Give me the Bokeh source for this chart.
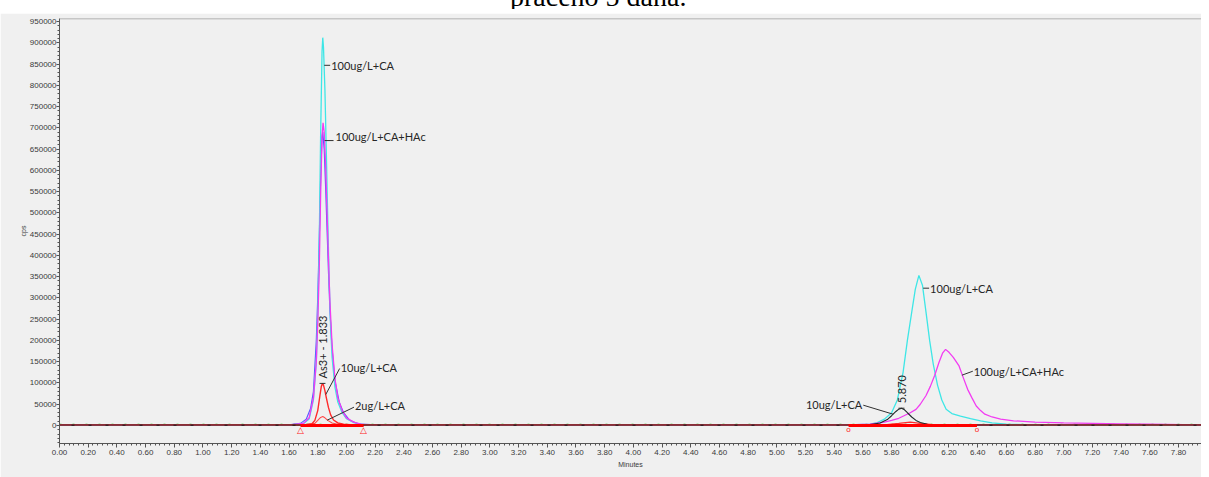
from math import pi
from bokeh.plotting import figure
from bokeh.models import (Range1d, SingleIntervalTicker, NumeralTickFormatter, Span, Div,
                          LinearAxis, FixedTicker)
from bokeh.layouts import column
from bokeh.core.properties import value
from bokeh.embed import file_html
from bokeh.resources import INLINE

# ---------------- data ----------------
TITLE_TEXT = "praćeno 5 dana."
X_LABEL = "Minutes"
Y_LABEL = "cps"

t_cyan = [0.00, 1.60, 1.70, 1.74, 1.77, 1.79, 1.80, 1.81, 1.82, 1.83, 1.835, 1.84, 1.85, 1.86, 1.87,
          1.88, 1.89, 1.90, 1.92, 1.94, 1.97, 2.00, 2.05, 2.10, 2.20, 5.50, 5.65, 5.70, 5.75, 5.80,
          5.84, 5.88, 5.91, 5.94, 5.965, 5.99, 6.015, 6.04, 6.065, 6.09, 6.12, 6.15, 6.18, 6.22,
          6.28, 6.35, 6.42, 6.50, 6.60, 6.80, 7.96]
v_cyan = [1500, 1500, 4000, 15000, 60000, 150000, 260000, 420000, 680000, 880000, 912000, 890000,
          790000, 640000, 480000, 340000, 230000, 160000, 90000, 55000, 30000, 16000, 7000, 3000,
          1500, 1500, 3000, 7000, 15000, 30000, 60000, 125000, 200000, 266000, 320000, 353000,
          330000, 266000, 200000, 145000, 95000, 60000, 38000, 28000, 22000, 16000, 11000, 6000,
          3000, 1500, 1500]

t_blue = [0.00, 1.60, 1.68, 1.72, 1.75, 1.77, 1.79, 1.80, 1.81, 1.82, 1.83, 1.835, 1.845, 1.855,
          1.865, 1.875, 1.885, 1.90, 1.92, 1.95, 1.98, 2.02, 2.08, 2.15, 7.96]
v_blue = [1500, 1500, 5000, 15000, 40000, 80000, 200000, 300000, 430000, 580000, 680000, 690000,
          650000, 560000, 460000, 360000, 270000, 180000, 105000, 55000, 30000, 13000, 4000, 1500,
          1500]

t_magenta = [0.00, 1.60, 1.70, 1.74, 1.77, 1.79, 1.80, 1.81, 1.82, 1.83, 1.837, 1.845, 1.855, 1.865,
             1.875, 1.885, 1.90, 1.92, 1.94, 1.97, 2.00, 2.05, 2.10, 2.20, 5.50, 5.65, 5.75, 5.80,
             5.85, 5.89, 5.93, 5.97, 6.00, 6.04, 6.07, 6.10, 6.13, 6.155, 6.176, 6.20, 6.23, 6.27,
             6.30, 6.33, 6.36, 6.39, 6.42, 6.45, 6.50, 6.56, 6.65, 6.80, 7.00, 7.20, 7.40, 7.60, 7.96]
v_magenta = [1500, 1500, 5000, 18000, 65000, 150000, 240000, 360000, 540000, 680000, 712000, 690000,
             610000, 500000, 390000, 290000, 190000, 110000, 65000, 35000, 18000, 8000, 3000, 1500,
             1500, 3000, 8000, 12000, 17000, 23500, 30000, 38000, 50000, 70500, 92000, 117600,
             148000, 170000, 179000, 172000, 160000, 140000, 112000, 85000, 65000, 46000, 35000,
             26500, 20000, 15000, 11000, 8000, 6000, 5000, 4000, 3000, 1500]

t_red10 = [0.00, 1.70, 1.76, 1.78, 1.80, 1.815, 1.825, 1.833, 1.84, 1.85, 1.86, 1.875, 1.89, 1.91,
           1.94, 1.98, 2.05, 5.75, 5.85, 5.93, 6.00, 6.10, 7.96]
v_red10 = [1500, 1500, 4000, 12000, 35000, 70000, 92000, 99000, 95000, 82000, 65000, 42000, 25000,
           13000, 6000, 3000, 1500, 1500, 5000, 8000, 5000, 1500, 1500]

t_red2 = [0.00, 1.72, 1.78, 1.80, 1.82, 1.835, 1.85, 1.87, 1.90, 1.94, 2.00, 7.96]
v_red2 = [1000, 1500, 5000, 12000, 19000, 21000, 18000, 12000, 6000, 3000, 1500, 1000]

t_black = [0.00, 5.50, 5.65, 5.72, 5.77, 5.80, 5.83, 5.85, 5.869, 5.89, 5.91, 5.94, 5.97, 6.00,
           6.05, 6.15, 7.96]
v_black = [1000, 1000, 2000, 6000, 14000, 23000, 33000, 38500, 40700, 37000, 30000, 20000, 12000,
           7000, 3000, 1000, 1000]

t_noise = [0.00, 7.96]
v_noise_green = [1500, 1500]
v_noise_dark = [700, 700]

# integration limits (start / end markers)
integ_tri_t = [1.68, 2.12]
integ_circ_t = [5.50, 6.395]

# peak annotations: text and the point of the trace they point to
ann_text = ["100ug/L+CA", "100ug/L+CA+HAc", "10ug/L+CA", "2ug/L+CA",
            "100ug/L+CA", "100ug/L+CA+HAc", "10ug/L+CA"]
ann_t = [1.845, 1.848, 1.856, 1.866, 6.020, 6.290, 5.810]
ann_v = [847000, 670000, 72900, 12500, 322900, 118300, 26600]

# retention-time labels (rotated)
rt_text = ["As3+ - 1.833", "5.870"]
rt_t = [1.833, 5.869]
rt_v = [99000, 40700]

# ---------------- layout / style ----------------
W, H = 1201, 466
ML, MR, MT, MB = 50, 0, 5, 36
FRAME_W, FRAME_H = W - ML - MR, H - MT - MB
X0, X1 = 0.0, 7.96
Y0, Y1 = -42333, 957055
ux = (X1 - X0) / FRAME_W
uy = (Y1 - Y0) / FRAME_H

# leader end / text offsets in screen px (dx right, dy down)
ann_style = [
    (6, 0, 7, 0, "left"),
    (9, 0, 11, -4, "left"),
    (14, -26, 15, -27, "left"),
    (27, -13, 28, -15, "left"),
    (6, 0, 7, 0, "left"),
    (11, -4, 12, -4, "left"),
    (-30, -9, -31, -10, "right"),
]

BG = "#f0f0f0"
AX = "#555555"
TXT = "#3a3a3a"
LBL_FONT = value("Lato")

p = figure(width=W, height=H, output_backend="svg", toolbar_location=None,
           x_range=Range1d(X0, X1), y_range=Range1d(Y0, Y1),
           min_border_left=ML, min_border_right=MR, min_border_top=MT, min_border_bottom=MB,
           background_fill_color=BG, border_fill_color=BG, outline_line_color=None)
p.xgrid.visible = False
p.ygrid.visible = False

p.xaxis.ticker = SingleIntervalTicker(interval=0.2, num_minor_ticks=6)
p.xaxis.formatter = NumeralTickFormatter(format="0.00")
p.yaxis.ticker = SingleIntervalTicker(interval=50000, num_minor_ticks=5)
p.yaxis.formatter = NumeralTickFormatter(format="0")
for ax in (p.xaxis[0], p.yaxis[0]):
    ax.axis_line_color = AX
    ax.major_tick_line_color = AX
    ax.minor_tick_line_color = AX
    ax.major_tick_in = 0
    ax.minor_tick_in = 0
    ax.minor_tick_out = 2
    ax.major_label_text_font = "Liberation Sans"
    ax.major_label_text_font_size = "8px"
    ax.major_label_text_color = TXT
    ax.axis_label_text_font = "Liberation Sans"
    ax.axis_label_text_font_size = "7px"
    ax.axis_label_text_font_style = "normal"
    ax.axis_label_text_color = TXT
p.xaxis.axis_label = X_LABEL
p.yaxis.axis_label = Y_LABEL
p.xaxis.major_tick_out = 4
p.xaxis.major_label_standoff = 2
p.xaxis.axis_label_standoff = 3
p.yaxis.major_tick_out = 3
p.yaxis.major_label_standoff = 0
p.yaxis.axis_label_standoff = 0

# empty outer axis that only reserves room at the far left
pad_axis = LinearAxis(ticker=FixedTicker(ticks=[]), axis_label=" ", axis_label_text_font_size="7px",
                      axis_label_standoff=6, axis_line_color=None, major_tick_line_color=None,
                      minor_tick_line_color=None, major_tick_out=0, minor_tick_out=0,
                      major_label_standoff=0)
p.add_layout(pad_axis, "left")

# top frame line
p.add_layout(Span(location=Y1, dimension="width", line_color="#9a9a9a", line_width=1.5))

# baseline noise traces
p.line(t_noise, v_noise_dark, line_color="#202020", line_width=1.2)
p.line(t_noise, v_noise_green, line_color="#22cc22", line_width=2, line_dash="2 11")

# chromatograms
p.line(t_blue, v_blue, line_color="#5a5aff", line_width=1.2)
p.line(t_cyan, v_cyan, line_color="#3ee6e6", line_width=1.3)
p.line(t_magenta, v_magenta, line_color="#f23cf2", line_width=1.3)
p.line(t_red2, v_red2, line_color="#ff4a4a", line_width=1.1)
p.line(t_red10, v_red10, line_color="#ff2a2a", line_width=1.4)
p.line(t_black, v_black, line_color="#1e2a2a", line_width=1.1)
p.line(t_noise, v_noise_dark, line_color="#1a1a1a", line_width=1, line_dash="3 14", line_dash_offset=5)

# integration baselines and markers
p.segment(x0=[integ_tri_t[0], integ_circ_t[0]], y0=[0, 0],
          x1=[integ_tri_t[1], integ_circ_t[1]], y1=[0, 0], line_color="#ff0000", line_width=3)
p.text(x=integ_tri_t, y=[-5 * uy] * 2, text=["△"] * 2, text_color="#ff2020",
       text_font_size="9px", text_align="center", text_baseline="middle")
p.text(x=integ_circ_t, y=[-4 * uy] * 2, text=["o"] * 2, text_color="#ff2020",
       text_font_size="8px", text_align="center", text_baseline="middle")

# annotations with leaders
lx0, ly0, lx1, ly1 = [], [], [], []
for (t, v, txt, st) in zip(ann_t, ann_v, ann_text, ann_style):
    ldx, ldy, tdx, tdy, al = st
    lx0.append(t)
    ly0.append(v)
    lx1.append(t + ldx * ux)
    ly1.append(v - ldy * uy)
    p.text(x=[t + tdx * ux], y=[v - tdy * uy], text=[txt], text_font=LBL_FONT,
           text_font_size="11px", text_color="#262626", text_align=al, text_baseline="middle")
p.segment(x0=lx0, y0=ly0, x1=lx1, y1=ly1, line_color="#303030", line_width=1)

# retention time labels (vertical)
p.text(x=rt_t, y=[v + 5 * uy for v in rt_v], text=rt_text, angle=pi / 2, text_font=LBL_FONT,
       text_font_size="11px", text_color="#262626", text_align="left", text_baseline="middle")
p.segment(x0=[t - 3 * ux for t in rt_t], y0=rt_v, x1=[t + 3 * ux for t in rt_t], y1=rt_v,
          line_color="#303030", line_width=1)

title_div = Div(
    text=('<div style="position:relative;width:%dpx;height:11px;overflow:hidden;background:#ffffff">'
          '<div style="position:absolute;left:505px;top:-17px;white-space:nowrap;'
          'font-family:\'Liberation Serif\';font-size:28px;line-height:32px;color:#000">%s</div></div>')
    % (W, TITLE_TEXT),
    width=W, height=11)

layout = column(title_div, p, margin=(-8, 0, -8, 0), spacing=0)

open("out.html", "w").write(file_html(layout, INLINE))
